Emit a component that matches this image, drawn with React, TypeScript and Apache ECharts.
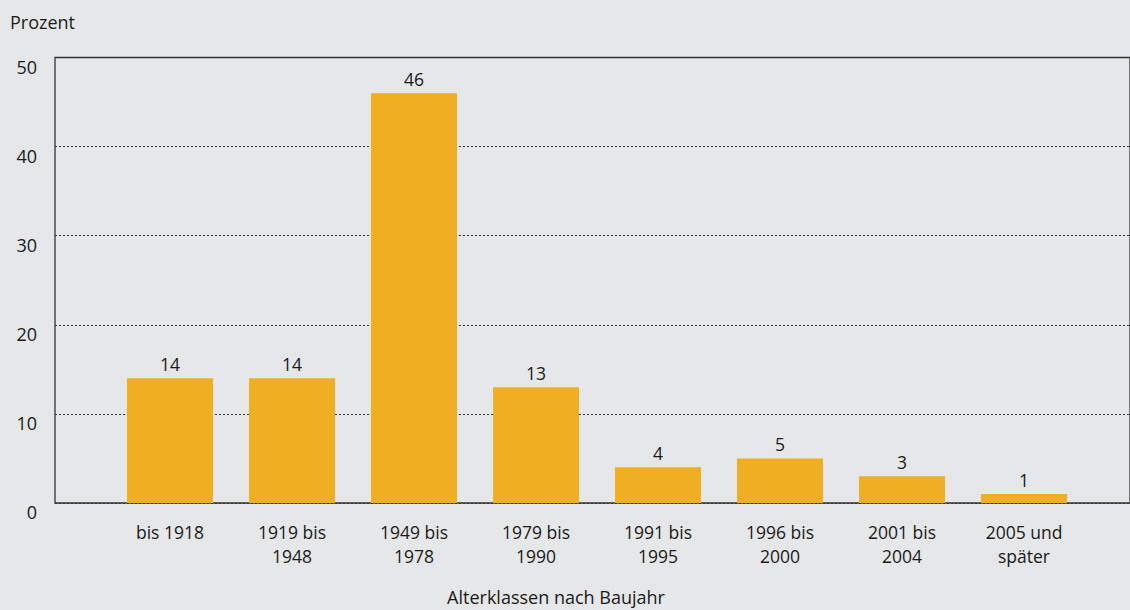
import React, { useEffect, useRef } from "react";
import * as echarts from "echarts";

const categories = [
  "bis 1918",
  "1919 bis\n1948",
  "1949 bis\n1978",
  "1979 bis\n1990",
  "1991 bis\n1995",
  "1996 bis\n2000",
  "2001 bis\n2004",
  "2005 und\nspäter",
];
const values = [14, 14, 46, 13, 4, 5, 3, 1];
const yTicks = [0, 10, 20, 30, 40, 50];
const yTitle = "Prozent";
const xTitle = "Alterklassen nach Baujahr";

const FONT = "'Open Sans', 'Noto Sans', sans-serif";
const TEXT = "#1a1a1a";

export default function App() {
  const ref = useRef<HTMLDivElement>(null);
  useEffect(() => {
    if (!ref.current) return;
    const chart = echarts.init(ref.current, null, { renderer: "svg" });
    chart.setOption({
      animation: false,
      backgroundColor: "#e6e7e9",
      textStyle: { fontFamily: FONT },
      grid: [
        { left: 55, right: -6, top: 57.5, bottom: 107, show: true, borderColor: "#333", borderWidth: 1.3, containLabel: false },
        { left: 109, right: 45, top: 57.5, bottom: 107, containLabel: false },
      ],
      xAxis: [
        { type: "value", gridIndex: 0, min: 0, max: 1, show: false },
        {
          type: "category",
          gridIndex: 1,
          data: categories,
          axisLine: { show: false },
          axisTick: { show: false },
          axisLabel: {
            color: TEXT,
            fontSize: 17.5,
            lineHeight: 24,
            margin: 17,
            fontFamily: FONT,
            interval: 0,
          },
        },
      ],
      yAxis: [
        {
          type: "value",
          gridIndex: 0,
          min: 0,
          max: 50,
          interval: 10,
          axisLine: { show: false },
          axisTick: { show: false },
          axisLabel: {
            color: TEXT,
            fontSize: 18,
            margin: 18,
            verticalAlign: "top",
            fontFamily: FONT,
            customValues: yTicks,
          },
          splitLine: { show: true, lineStyle: { color: "#333", type: [2, 2], width: 1 } },
        },
        { type: "value", gridIndex: 1, min: 0, max: 50, interval: 10, show: false, splitLine: { show: false } },
      ],
      series: [
        {
          type: "bar",
          xAxisIndex: 1,
          yAxisIndex: 1,
          data: values,
          barWidth: 86,
          itemStyle: { color: "#f0ae22" },
          label: {
            show: true,
            position: "top",
            distance: 5,
            color: TEXT,
            fontSize: 17.5,
            fontFamily: FONT,
          },
        },
      ],
      graphic: [
        {
          type: "text",
          x: 10,
          y: 22,
          style: { text: yTitle, fill: TEXT, fontSize: 18, fontFamily: FONT, textVerticalAlign: "middle" },
        },
        {
          type: "text",
          x: 556,
          y: 597,
          style: { text: xTitle, fill: TEXT, fontSize: 18, fontFamily: FONT, textAlign: "center", textVerticalAlign: "middle" },
        },
      ],
    });
    return () => chart.dispose();
  }, []);
  return <div ref={ref} style={{ width: 1130, height: 610, position: "absolute", left: 0, top: 0 }} />;
}
